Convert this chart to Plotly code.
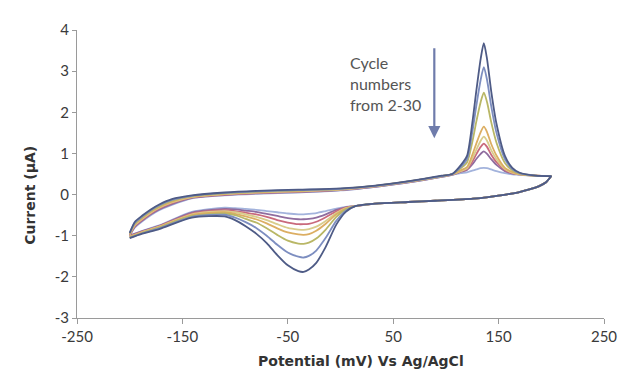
import plotly.graph_objects as go

# Potential grid (mV) for anodic (forward) and cathodic (reverse) sweeps
X_FWD = [-200, -195, -188, -180, -172, -160, -141, -110, -79, -40, 0, 33, 60, 80, 96, 106,
         114, 120, 125, 129, 133, 136, 139, 143, 148, 156, 163, 170, 185, 200]
X_REV = [200, 195, 188, 180, 168, 157, 126, 90, 64, 33, 14, 5, -4, -14, -23, -30, -35, -40,
         -50, -60, -70, -80, -90, -100, -110, -141, -172, -188, -200]

# Current (uA) per recorded cycle (largest first)
cyc1_fwd = [-0.93, -0.66, -0.51, -0.36, -0.24, -0.11, -0.02, 0.05, 0.09, 0.12, 0.15, 0.22, 0.31, 0.39, 0.46, 0.5,
            0.71, 0.94, 1.73, 2.55, 3.30, 3.68, 3.30, 2.51, 1.72, 0.94, 0.65, 0.53, 0.46, 0.45]
cyc2_fwd = [-0.94, -0.68, -0.53, -0.38, -0.26, -0.13, -0.03, 0.04, 0.08, 0.11, 0.14, 0.21, 0.30, 0.38, 0.45, 0.5,
            0.67, 0.86, 1.51, 2.18, 2.79, 3.10, 2.79, 2.15, 1.50, 0.86, 0.62, 0.52, 0.46, 0.45]
cyc3_fwd = [-0.95, -0.70, -0.55, -0.40, -0.28, -0.15, -0.04, 0.03, 0.07, 0.10, 0.14, 0.21, 0.30, 0.38, 0.45, 0.5,
            0.64, 0.78, 1.27, 1.79, 2.25, 2.48, 2.25, 1.76, 1.26, 0.77, 0.59, 0.51, 0.46, 0.45]
cyc4_fwd = [-0.96, -0.72, -0.57, -0.42, -0.30, -0.17, -0.05, 0.02, 0.06, 0.09, 0.13, 0.21, 0.30, 0.38, 0.45, 0.5,
            0.59, 0.67, 0.96, 1.25, 1.52, 1.65, 1.52, 1.23, 0.95, 0.65, 0.55, 0.50, 0.46, 0.45]
cyc5_fwd = [-0.97, -0.74, -0.59, -0.44, -0.32, -0.19, -0.06, 0.01, 0.05, 0.08, 0.12, 0.20, 0.29, 0.37, 0.44, 0.49,
            0.57, 0.64, 0.87, 1.10, 1.31, 1.41, 1.31, 1.08, 0.86, 0.62, 0.53, 0.49, 0.46, 0.45]
cyc6_fwd = [-0.98, -0.76, -0.61, -0.46, -0.34, -0.21, -0.07, 0.00, 0.04, 0.07, 0.12, 0.20, 0.29, 0.37, 0.44, 0.49,
            0.56, 0.62, 0.80, 0.99, 1.16, 1.24, 1.16, 0.97, 0.79, 0.60, 0.52, 0.49, 0.46, 0.45]
cyc7_fwd = [-0.99, -0.78, -0.63, -0.48, -0.36, -0.23, -0.08, -0.01, 0.03, 0.06, 0.11, 0.19, 0.28, 0.36, 0.43, 0.48,
            0.55, 0.60, 0.73, 0.87, 0.99, 1.05, 0.99, 0.86, 0.72, 0.57, 0.51, 0.49, 0.46, 0.45]
cyc8_fwd = [-1.0, -0.80, -0.65, -0.50, -0.38, -0.25, -0.09, -0.02, 0.02, 0.05, 0.10, 0.19, 0.28, 0.36, 0.43, 0.48,
            0.52, 0.54, 0.58, 0.61, 0.64, 0.65, 0.64, 0.61, 0.57, 0.52, 0.49, 0.48, 0.46, 0.45]

cyc1_rev = [0.45, 0.3, 0.2, 0.13, 0.05, 0.0, -0.1, -0.15, -0.18, -0.22, -0.28,
            -0.42, -0.73, -1.27, -1.66, -1.82, -1.88, -1.86, -1.72, -1.47, -1.18, -0.95, -0.77, -0.62, -0.53,
            -0.56, -0.84, -0.95, -1.06]
cyc2_rev = [0.45, 0.3, 0.2, 0.13, 0.05, 0.0, -0.1, -0.15, -0.18, -0.22, -0.28,
            -0.39, -0.64, -1.05, -1.36, -1.49, -1.53, -1.51, -1.41, -1.22, -1.00, -0.81, -0.67, -0.56, -0.49,
            -0.54, -0.82, -0.94, -1.05]
cyc3_rev = [0.45, 0.3, 0.2, 0.13, 0.05, 0.0, -0.1, -0.15, -0.18, -0.22, -0.28,
            -0.36, -0.54, -0.85, -1.07, -1.17, -1.20, -1.19, -1.12, -0.98, -0.82, -0.68, -0.59, -0.50, -0.46,
            -0.52, -0.80, -0.93, -1.04]
cyc4_rev = [0.45, 0.3, 0.2, 0.13, 0.05, 0.0, -0.1, -0.15, -0.18, -0.22, -0.28,
            -0.34, -0.48, -0.71, -0.88, -0.96, -0.98, -0.97, -0.92, -0.82, -0.70, -0.60, -0.53, -0.47, -0.43,
            -0.50, -0.79, -0.92, -1.03]
cyc5_rev = [0.45, 0.3, 0.2, 0.13, 0.05, 0.0, -0.1, -0.15, -0.18, -0.22, -0.28,
            -0.33, -0.45, -0.64, -0.78, -0.84, -0.86, -0.85, -0.81, -0.72, -0.62, -0.54, -0.48, -0.43, -0.40,
            -0.48, -0.78, -0.91, -1.02]
cyc6_rev = [0.45, 0.3, 0.2, 0.13, 0.05, 0.0, -0.1, -0.15, -0.18, -0.22, -0.28,
            -0.32, -0.41, -0.55, -0.66, -0.71, -0.72, -0.72, -0.68, -0.62, -0.54, -0.48, -0.44, -0.40, -0.38,
            -0.46, -0.77, -0.90, -1.01]
cyc7_rev = [0.45, 0.3, 0.2, 0.13, 0.05, 0.0, -0.1, -0.15, -0.18, -0.22, -0.28,
            -0.31, -0.37, -0.48, -0.56, -0.59, -0.60, -0.60, -0.57, -0.52, -0.47, -0.42, -0.39, -0.36, -0.35,
            -0.44, -0.76, -0.89, -1.00]
cyc8_rev = [0.45, 0.3, 0.2, 0.13, 0.05, 0.0, -0.1, -0.15, -0.18, -0.22, -0.28,
            -0.30, -0.34, -0.40, -0.45, -0.47, -0.48, -0.48, -0.46, -0.43, -0.40, -0.37, -0.35, -0.33, -0.32,
            -0.42, -0.75, -0.88, -0.99]

X_TICKS = [-250, -150, -50, 50, 150, 250]
X_TICK_TEXT = ["-250", "-150", "-50", "50", "150", "250"]
Y_TICKS = [-3, -2, -1, 0, 1, 2, 3, 4]
Y_TICK_TEXT = ["-3", "-2", "-1", "0", "1", "2", "3", "4"]

cycles = [
    (cyc8_fwd, cyc8_rev, "#a3b3dc"),
    (cyc7_fwd, cyc7_rev, "#8f6d9f"),
    (cyc6_fwd, cyc6_rev, "#c96a7c"),
    (cyc5_fwd, cyc5_rev, "#d9cd8c"),
    (cyc4_fwd, cyc4_rev, "#dcae62"),
    (cyc3_fwd, cyc3_rev, "#b9b766"),
    (cyc2_fwd, cyc2_rev, "#7d8ec0"),
    (cyc1_fwd, cyc1_rev, "#4e5b86"),
]

fig = go.Figure()
for fwd, rev, col in cycles:
    fig.add_trace(go.Scatter(
        x=X_FWD + X_REV, y=fwd + rev, mode="lines",
        line=dict(color=col, width=1.8, shape="spline", smoothing=0.7),
        showlegend=False, hoverinfo="skip"))

font_family = "Lato, 'Open Sans', sans-serif"
title_family = "'DejaVu Sans', sans-serif"

# page body has an 8px margin, so the figure is shifted by 8px
fig.update_layout(
    width=621, height=366,
    margin=dict(l=69, r=17, t=17, b=56),
    paper_bgcolor="white", plot_bgcolor="white",
    font=dict(family=font_family, size=14, color="#3a3a3a"),
    xaxis=dict(range=[-250, 250], tickmode="array", tickvals=X_TICKS, ticktext=X_TICK_TEXT,
               showgrid=False, zeroline=False, showline=True, linecolor="#9a9a9a", linewidth=1,
               ticks="outside", ticklen=5, tickcolor="#9a9a9a",
               tickfont=dict(family=font_family, size=15, color="#3a3a3a")),
    yaxis=dict(range=[-3, 4], tickmode="array", tickvals=Y_TICKS, ticktext=Y_TICK_TEXT,
               showgrid=False, zeroline=False, showline=True, linecolor="#9a9a9a", linewidth=1,
               ticks="outside", ticklen=4, tickcolor="#9a9a9a",
               tickfont=dict(family=font_family, size=15, color="#3a3a3a")),
)

fig.add_annotation(x=(365 - 77) / 535, y=-(362 - 318) / 293, xref="paper", yref="paper",
                   text="<b>Potential (mV) Vs Ag/AgCl</b>", showarrow=False,
                   xanchor="center", yanchor="middle",
                   font=dict(family=title_family, size=14, color="#333333"))

fig.add_annotation(x=-(77 - 29) / 535, y=(318 - 193) / 293, xref="paper", yref="paper",
                   text="<b>Current (μA)</b>", textangle=-90, showarrow=False,
                   xanchor="center", yanchor="middle",
                   font=dict(family=title_family, size=14, color="#333333"))

fig.add_annotation(x=7, y=2.69, xref="x", yref="y", text="Cycle<br>numbers<br>from 2-30",
                   showarrow=False, xanchor="left", yanchor="middle", align="left",
                   font=dict(family=font_family, size=16, color="#555555"))

fig.add_annotation(x=89, y=1.37, ax=89, ay=3.59, xref="x", yref="y", axref="x", ayref="y",
                   text="", showarrow=True, arrowhead=2, arrowsize=1.1, arrowwidth=2.2,
                   arrowcolor="#6f7cab")

fig.write_html("out.html")
